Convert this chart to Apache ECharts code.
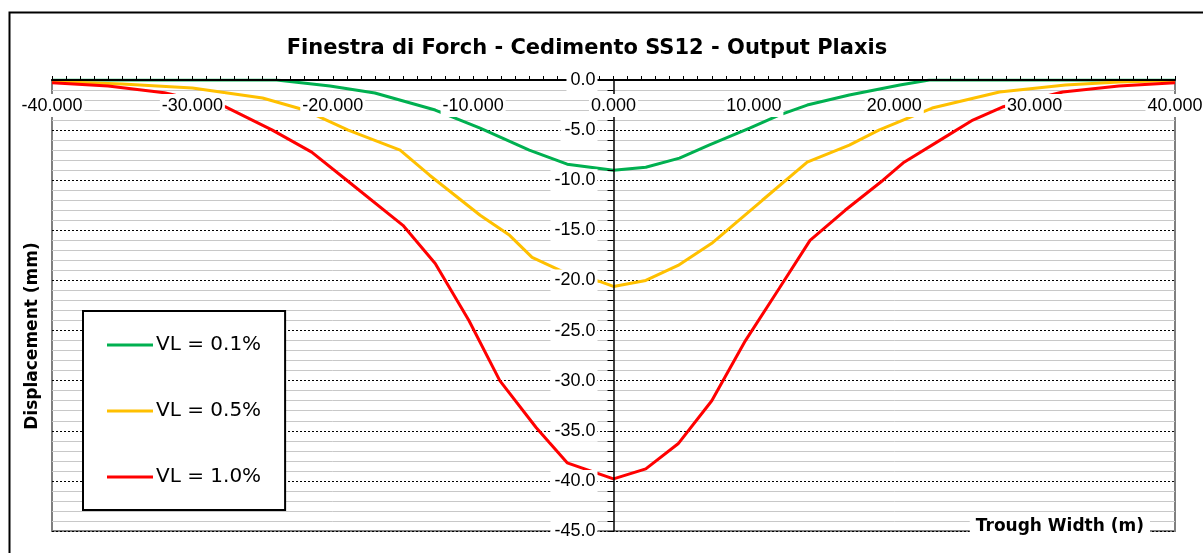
<!DOCTYPE html>
<html>
<head>
<meta charset="utf-8">
<script src="https://cdn.jsdelivr.net/npm/echarts@6/dist/echarts.min.js"></script>
<style>
html,body{margin:0;padding:0;background:#fff;}
#chart{width:1203px;height:553px;}
</style>
</head>
<body>
<div id="chart"></div>
<script>
// Data (x = trough width in m, y = displacement in mm)
const titleText = 'Finestra di Forch - Cedimento SS12 - Output Plaxis';
const xAxisTitle = 'Trough Width (m)';
const yAxisTitle = 'Displacement (mm)';
const seriesNames = ['VL = 0.1%', 'VL = 0.5%', 'VL = 1.0%'];
const seriesColors = ['#00B050', '#FFC000', '#FF0000'];

const vl01 = [
  [-40, 0], [-30, 0], [-24, 0], [-20.2, -0.6], [-17, -1.3], [-12.7, -3.0], [-9.5, -4.8],
  [-6, -7.0], [-3.3, -8.4], [0, -9.0], [2.3, -8.7], [4.7, -7.8], [6.8, -6.5],
  [9.7, -4.8], [11.8, -3.5], [13.8, -2.5], [16.8, -1.5], [20.4, -0.5], [22.5, 0], [30, 0], [40, 0]
];
const vl05 = [
  [-40, -0.15], [-35, -0.4], [-30, -0.8], [-28, -1.2], [-25, -1.8], [-22, -3.0], [-18.9, -5.0],
  [-15.2, -7.0], [-13.1, -9.5], [-9.5, -13.5], [-7.4, -15.5], [-5.8, -17.7], [-3.5, -19.2],
  [-1.0, -20.1], [0, -20.6], [2.3, -20.0], [4.6, -18.5], [7.0, -16.3], [10.6, -12.0],
  [13.8, -8.2], [16.8, -6.5], [18.9, -5.0], [22.7, -2.8], [27.5, -1.2], [32.2, -0.5], [36, -0.2], [40, -0.05]
];
const vl10 = [
  [-40, -0.27], [-36, -0.6], [-32, -1.27], [-27.6, -2.7], [-24.3, -5.0], [-21.5, -7.2], [-19, -10.0],
  [-15, -14.5], [-12.7, -18.3], [-10.3, -24.0], [-8.1, -30.0], [-5.5, -34.7], [-3.3, -38.2],
  [0, -39.8], [2.3, -38.8], [4.6, -36.3], [7.0, -32.0], [9.4, -26.0], [11.8, -20.8],
  [14.0, -16.0], [16.5, -13.0], [19.2, -10.0], [20.7, -8.2], [23.5, -5.8], [25.6, -4.0],
  [27.7, -2.7], [32.0, -1.2], [36, -0.6], [40, -0.27]
];
const seriesData = [vl01, vl05, vl10];

const xMin = -40, xMax = 40, xStep = 10;
const yMin = -45, yMax = 0, yStep = 5;

const chart = echarts.init(document.getElementById('chart'), null, {renderer: 'canvas'});

const FONT = 'Liberation Sans, Arial, sans-serif';
const WIDE = 'DejaVu Sans, sans-serif';

const gridLeft = 52, gridRight = 28;
const plotWidth = 1203 - gridLeft - gridRight;
// place the y axis (line, ticks, labels) at x = 0 of the x scale
const yAxisOffset = -plotWidth * (0 - xMin) / (xMax - xMin);

const option = {
  backgroundColor: '#fff',
  animation: false,
  title: {
    text: titleText,
    left: 582, top: 33,
    textAlign: 'center',
    textStyle: {fontFamily: WIDE, fontSize: 21, fontWeight: 'bold', color: '#000'}
  },
  graphic: [
    {type: 'rect', left: 7, top: 10, z: -10, silent: true,
     shape: {width: 1400, height: 700}, style: {fill: null, stroke: '#000', lineWidth: 2}},
    {type: 'text', right: 1203 - 1150, top: 517, z: 100,
     style: {text: xAxisTitle, fontFamily: WIDE, fontSize: 17, fontWeight: 'bold', fill: '#000',
             backgroundColor: '#fff', padding: [1, 6, 1, 6]}},
    {type: 'text', x: 33, y: 336, rotation: Math.PI / 2, z: 100,
     style: {text: yAxisTitle, fontFamily: WIDE, fontSize: 17, fontWeight: 'bold', fill: '#000',
             align: 'center', verticalAlign: 'middle'}}
  ],
  legend: {
    left: 83, top: 311,
    orient: 'vertical',
    data: seriesNames,
    icon: 'rect',
    itemWidth: 46, itemHeight: 3, itemGap: 46,
    padding: [24, 24, 23, 24],
    backgroundColor: '#fff',
    borderColor: '#000', borderWidth: 2, borderRadius: 0,
    textStyle: {fontFamily: WIDE, fontSize: 20, color: '#000', padding: [0, 0, 0, -2]}
  },
  grid: {
    left: gridLeft, right: gridRight, top: 80, bottom: 22,
    containLabel: false, outerBoundsMode: 'none',
    show: true, borderColor: '#808080', borderWidth: 2, backgroundColor: '#fff'
  },
  xAxis: [{
    type: 'value', position: 'top', min: xMin, max: xMax, interval: xStep, z: 5,
    axisLine: {onZero: false, lineStyle: {color: '#000', width: 2}},
    axisTick: {show: true, inside: false, length: 4, lineStyle: {color: '#000'}},
    minorTick: {show: true, splitNumber: 10, length: 4, lineStyle: {color: '#000'}},
    splitLine: {show: false},
    axisLabel: {
      inside: true, margin: 14, fontFamily: FONT, fontSize: 18, color: '#000',
      backgroundColor: '#fff', padding: [3, 2, 2, 2],
      formatter: v => v.toFixed(3)
    }
  }],
  yAxis: [{
    type: 'value', min: yMin, max: yMax, interval: yStep, z: 0,
    axisLine: {show: false}, axisTick: {show: false}, axisLabel: {show: false},
    splitLine: {show: true, lineStyle: {color: '#000', type: [2, 2], width: 1}},
    minorTick: {show: false, splitNumber: 5},
    minorSplitLine: {show: true, lineStyle: {color: '#c8c8c8', width: 1}}
  }, {
    type: 'value', position: 'left', offset: yAxisOffset,
    min: yMin, max: yMax, interval: yStep, z: 5,
    axisLine: {show: true, onZero: false, lineStyle: {color: '#000', width: 1.5}},
    axisTick: {show: true, inside: false, length: 6, lineStyle: {color: '#000'}},
    minorTick: {show: true, splitNumber: 5, length: 6, lineStyle: {color: '#000'}},
    splitLine: {show: false},
    axisLabel: {
      margin: 16, fontFamily: FONT, fontSize: 18, color: '#000',
      backgroundColor: '#fff', padding: [2, 2, 2, 4],
      formatter: v => v.toFixed(1)
    }
  }],
  series: seriesNames.map((name, i) => ({
    name: name,
    type: 'line',
    xAxisIndex: 0, yAxisIndex: 0,
    data: seriesData[i],
    showSymbol: false, symbol: 'none',
    lineStyle: {color: seriesColors[i], width: 3},
    itemStyle: {color: seriesColors[i]},
    z: 2
  }))
};
chart.setOption(option);
</script>
</body>
</html>
